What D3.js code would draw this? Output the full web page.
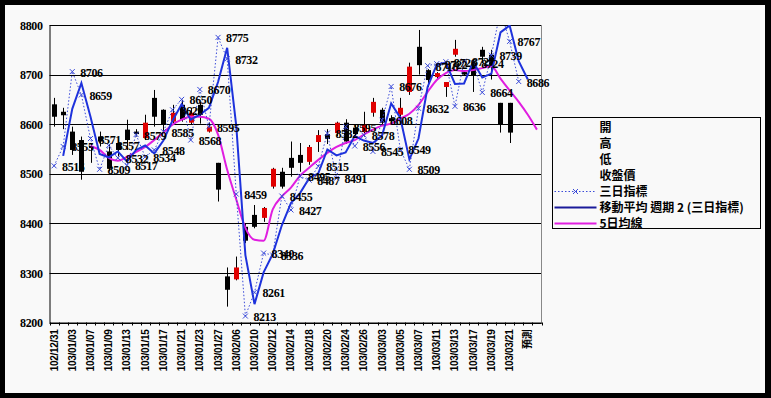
<!DOCTYPE html>
<html>
<head>
<meta charset="utf-8">
<script src="https://cdn.jsdelivr.net/npm/d3@7"></script>
<style>
  html, body { margin: 0; padding: 0; background: #000; }
  svg { display: block; }
  .num { font-family: "Liberation Serif", serif; font-weight: bold; font-size: 12px; letter-spacing: -0.4px; fill: #000; }
  .cjk { font-family: "Noto Sans CJK TC", sans-serif; font-weight: bold; font-size: 12px; fill: #000; }
</style>
</head>
<body>
<div id="chart"></div>
<script>
// trading days (two empty slots after 03/21 around the forecast)
const categories = ["102/12/31","103/01/02","103/01/03","103/01/06","103/01/07","103/01/08","103/01/09","103/01/10",
  "103/01/13","103/01/14","103/01/15","103/01/16","103/01/17","103/01/20","103/01/21","103/01/22","103/01/23",
  "103/01/24","103/01/27","103/02/05","103/02/06","103/02/07","103/02/10","103/02/11","103/02/12","103/02/13",
  "103/02/14","103/02/17","103/02/18","103/02/19","103/02/20","103/02/21","103/02/24","103/02/25","103/02/26",
  "103/02/27","103/03/03","103/03/04","103/03/05","103/03/06","103/03/07","103/03/10","103/03/11","103/03/12",
  "103/03/13","103/03/14","103/03/17","103/03/18","103/03/19","103/03/20","103/03/21","","預測",""];

const openVals  = [8640,8625,8585,8568,8556,8575,8545,8562,8589,8585,8572,8653,8629,8605,8639,8603,8639,8585,8522,8293,
  8287,8393,8417,8411,8474,8504,8532,8538,8524,8564,8580,8582,8603,8593,8584,8623,8629,8612,8619,8665,
  8756,8709,8695,8675,8740,8705,8719,8750,8740,8643,8643];
const highVals  = [8653,8633,8595,8575,8560,8585,8560,8568,8609,8590,8619,8669,8630,8639,8649,8633,8645,8603,8522,8311,
  8333,8400,8437,8433,8512,8512,8565,8562,8558,8588,8590,8605,8610,8598,8625,8653,8633,8618,8653,8724,
  8790,8711,8705,8685,8770,8708,8722,8756,8750,8643,8643];
const lowVals   = [8595,8590,8538,8488,8522,8555,8505,8535,8548,8575,8568,8595,8585,8600,8605,8600,8601,8583,8444,8232,
  8285,8360,8390,8403,8470,8470,8494,8504,8518,8544,8560,8576,8560,8575,8575,8615,8597,8600,8615,8659,
  8700,8675,8690,8655,8736,8698,8665,8724,8690,8583,8562];
const closeVals = [8615,8618,8548,8504,8552,8565,8510,8548,8568,8580,8603,8615,8599,8623,8609,8623,8619,8595,8468,8266,
  8311,8365,8393,8431,8510,8474,8512,8522,8554,8578,8570,8603,8565,8580,8599,8645,8603,8606,8633,8716,
  8719,8689,8703,8685,8752,8700,8699,8736,8715,8599,8583];

// 三日指標
const threeDay = [8516,8555,8706,8659,8571,8509,8557,8532,8517,8579,8534,8548,8585,8629,8650,8568,8670,8595,8775,8732,
  8459,8213,8261,8340,8336,8455,8427,8495,8487,8515,8582,8491,8595,8556,8578,8545,8608,8676,8549,8509,
  8632,8718,8722,8726,8636,8727,8724,8664,8739,8830,8767,8686];

// 移動平均 週期 2 (三日指標)
const movAvg2 = [null,8536,8631,8683,8615,8540,8533,8545,8525,8548,8557,8541,8567,8607,8640,8609,8619,8633,8685,8754,
  8596,8336,8237,8301,8338,8396,8441,8461,8491,8501,8549,8537,8543,8576,8567,8562,8577,8642,8613,8529,
  8571,8675,8720,8724,8681,8682,8726,8694,8702,8785,8799,8727,8690];

// 5日均線
const ma5 = [null,null,null,null,8556,8548,8532,8526,8534,8544,8554,8568,8583,8599,8609,8615,8615,8611,8579,8508,
  8448,8391,8367,8365,8428,8454,8472,8496,8512,8528,8542,8554,8562,8568,8579,8589,8597,8601,8611,8621,
  8639,8665,8689,8703,8709,8707,8709,8713,8717,8692,8668,8645,8619,8589];

const yTicks = [8200,8300,8400,8500,8600,8700,8800];
const legendNames = ["開","高","低","收盤價","三日指標","移動平均  週期 2 (三日指標)","5日均線"];

const W = 771, H = 398;
const blue = "#1e32dc", magenta = "#e01ee0", dotBlue = "#3a4ad8";

const svg = d3.select("#chart").append("svg").attr("width", W).attr("height", H);
svg.append("rect").attr("width", W).attr("height", H).attr("fill", "#000");
svg.append("rect").attr("x", 5).attr("y", 5).attr("width", 760).attr("height", 388).attr("fill", "#f9f9f9");

const plot = {left: 49.5, right: 541.5, top: 25, bottom: 322.5};

const idx = d3.range(categories.length);
const x = d3.scaleBand().domain(idx).range([plot.left, plot.right]);
const y = d3.scaleLinear().domain([8200, 8800]).range([plot.bottom, plot.top]);
const cx = i => x(i) + x.bandwidth() / 2;

svg.append("clipPath").attr("id", "clip").append("rect")
  .attr("x", plot.left).attr("y", plot.top).attr("width", plot.right - plot.left).attr("height", plot.bottom - plot.top);

// gridlines
svg.append("g").selectAll("line").data(yTicks).join("line")
  .attr("x1", plot.left).attr("x2", plot.right)
  .attr("y1", d => Math.round(y(d)) + 0.5).attr("y2", d => Math.round(y(d)) + 0.5)
  .attr("stroke", "#000");
svg.append("line").attr("x1", plot.right).attr("x2", plot.right).attr("y1", plot.top).attr("y2", plot.bottom)
  .attr("stroke", "#888");

// y axis
const yAxis = svg.append("g").attr("transform", `translate(${plot.left},0)`)
  .call(d3.axisLeft(y).tickValues(yTicks).tickSize(0).tickPadding(7).tickFormat(d3.format("d")));
yAxis.select(".domain").attr("stroke", "#000");
yAxis.selectAll("text").attr("class", "num").attr("dy", "0.35em");

// x axis
const xAxis = svg.append("g").attr("transform", `translate(0,${plot.bottom})`)
  .call(d3.axisBottom(x).tickSize(0).tickPadding(0).tickFormat(i => i % 2 === 0 ? categories[i] : ""));
xAxis.select(".domain").attr("stroke", "#000");
xAxis.selectAll("text")
  .attr("transform", "rotate(-90)")
  .attr("x", -7).attr("y", 0).attr("dy", "0.35em")
  .style("text-anchor", "end")
  .style("font-family", "'Liberation Sans', 'Noto Sans CJK TC', sans-serif")
  .style("font-weight", "bold").style("font-size", "10px").style("letter-spacing", "-0.3px").attr("fill", "#000");
svg.append("g").selectAll("line").data(d3.range(categories.length + 1)).join("line")
  .attr("x1", i => Math.round(plot.left + i * x.step()) + 0.5).attr("x2", i => Math.round(plot.left + i * x.step()) + 0.5)
  .attr("y1", plot.bottom).attr("y2", plot.bottom + 3).attr("stroke", "#000");

const g = svg.append("g").attr("clip-path", "url(#clip)");

// candles: high-low line then body
const candles = openVals.map((o, i) => ({i, o, h: highVals[i], l: lowVals[i], c: closeVals[i]}));
g.append("g").selectAll("line").data(candles).join("line")
  .attr("x1", d => Math.round(cx(d.i)) + 0.5).attr("x2", d => Math.round(cx(d.i)) + 0.5)
  .attr("y1", d => y(d.h)).attr("y2", d => y(d.l)).attr("stroke", "#000");
g.append("g").selectAll("rect").data(candles).join("rect")
  .attr("x", d => Math.round(cx(d.i)) - 2).attr("width", 5)
  .attr("y", d => y(Math.max(d.o, d.c))).attr("height", d => Math.max(1.5, Math.abs(y(d.o) - y(d.c))))
  .attr("fill", d => d.c >= d.o ? "#e00000" : "#000");

// 5日均線
g.append("path").datum(ma5.map((v, i) => [i, v]).filter(d => d[1] != null))
  .attr("fill", "none").attr("stroke", magenta).attr("stroke-width", 2)
  .attr("d", d3.line().x(d => cx(d[0])).y(d => y(d[1])).curve(d3.curveMonotoneX));

// 三日指標 dotted line + x markers
const td = threeDay.map((v, i) => [i, v]);
g.append("path").datum(td)
  .attr("fill", "none").attr("stroke", dotBlue).attr("stroke-width", 1).attr("stroke-dasharray", "1.5,2")
  .attr("d", d3.line().x(d => cx(d[0])).y(d => y(d[1])));

// 移動平均
g.append("path").datum(movAvg2.map((v, i) => [i, v]).filter(d => d[1] != null))
  .attr("fill", "none").attr("stroke", blue).attr("stroke-width", 2)
  .attr("d", d3.line().x(d => cx(d[0])).y(d => y(d[1])));

const xMark = (px, py, s) => `M${px - s},${py - s}L${px + s},${py + s}M${px - s},${py + s}L${px + s},${py - s}`;
g.append("path")
  .attr("d", td.map(d => xMark(cx(d[0]), y(d[1]), 2.5)).join(""))
  .attr("stroke", dotBlue).attr("stroke-width", 1).attr("fill", "none");

// data labels for 三日指標
svg.append("g").selectAll("text").data(td.filter(d => d[1] <= 8800)).join("text")
  .attr("class", "num")
  .attr("x", d => cx(d[0]) + 8).attr("y", d => y(d[1]) + 5)
  .text(d => d[1]);

// legend
const lg = svg.append("g").attr("transform", "translate(552.5,117.5)");
lg.append("rect").attr("width", 208).attr("height", 111).attr("fill", "none").attr("stroke", "#000");
const rowY = i => 10 + i * 16;
lg.selectAll("text").data(legendNames).join("text")
  .attr("class", "cjk").attr("x", 47).attr("y", (d, i) => rowY(i)).attr("dy", "0.36em").text(d => d);
lg.append("line").attr("x1", 2).attr("x2", 44).attr("y1", rowY(4)).attr("y2", rowY(4))
  .attr("stroke", dotBlue).attr("stroke-dasharray", "1.5,2");
lg.append("path").attr("d", xMark(23, rowY(4), 2.5)).attr("stroke", dotBlue).attr("fill", "none");
lg.append("line").attr("x1", 2).attr("x2", 44).attr("y1", rowY(5)).attr("y2", rowY(5))
  .attr("stroke", "#1a1a9a").attr("stroke-width", 2);
lg.append("line").attr("x1", 2).attr("x2", 44).attr("y1", rowY(6)).attr("y2", rowY(6))
  .attr("stroke", magenta).attr("stroke-width", 2);
</script>
</body>
</html>
